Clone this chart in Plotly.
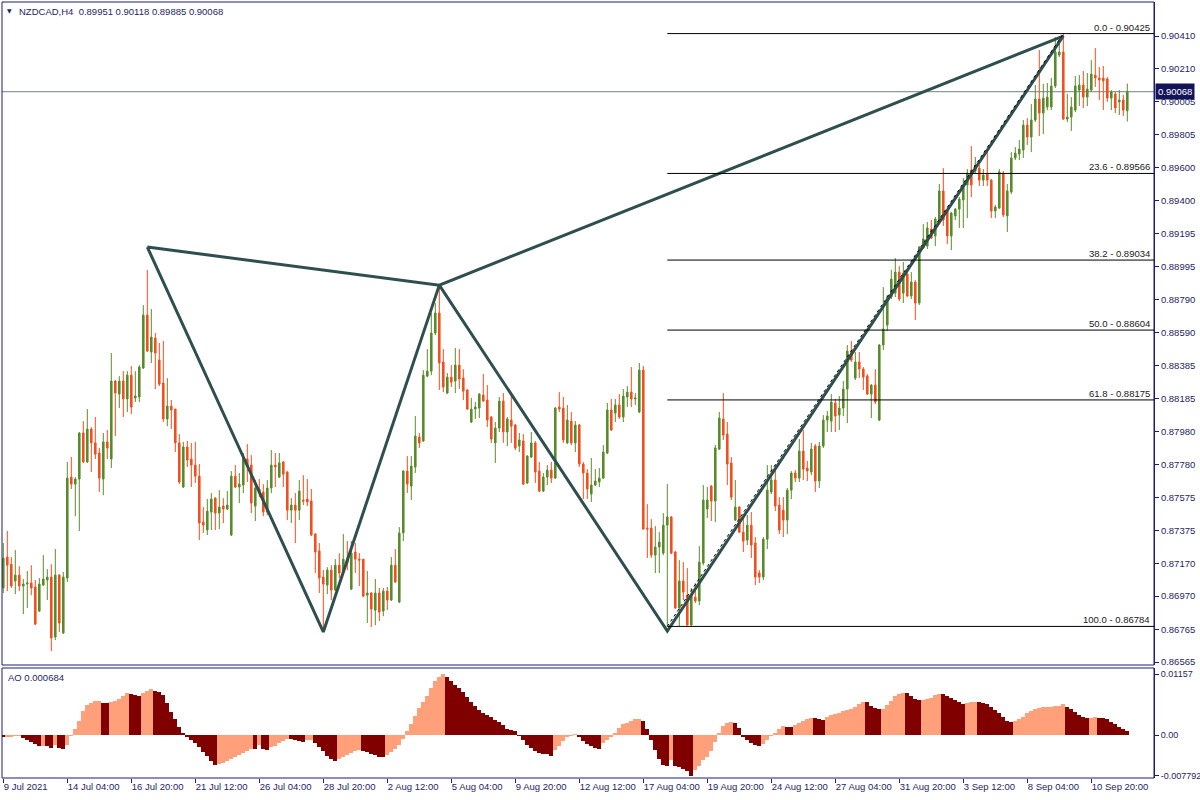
import plotly.graph_objects as go

# ---------------- data (prices in points, 1e-5) ----------------
opens_pts = [
87020,87210,87166,87063,87099,87032,87044,87051,87026,86878,
87038,87069,87087,86719,87099,86744,87081,87701,87658,87689,
87972,87794,87996,87911,87849,87689,87917,87812,88291,88211,
88291,88181,88327,88187,88193,88371,88696,88469,88555,88420,
88279,88058,88137,88119,87911,87640,87886,87812,87775,87707,
87425,87376,87486,87572,87480,87523,87505,87345,87707,87640,
87652,87812,87775,87523,87628,87609,87486,87634,87775,87701,
87794,87732,87498,87529,87498,87560,87566,87554,87351,87247,
87087,87038,87130,87007,87160,87118,87197,87013,87241,87197,
87197,86976,86989,86884,86989,86878,87001,86946,87160,86934,
87358,87738,87646,87763,87947,87923,88321,88352,88586,88709,
88408,88217,88315,88291,88389,88309,88236,88039,88119,88125,
88205,88174,88070,87911,88002,88168,87978,88051,88021,87892,
87923,87665,87824,87911,87738,87615,87701,87744,87695,88131,
88125,87911,88045,87911,88021,87781,87726,87597,87652,87671,
87695,87849,88113,88094,88144,88070,88193,88223,88181,88101,
88358,87388,87388,87222,87271,87234,87406,87456,87241,86897,
87063,86976,86792,86964,86940,87173,87505,87646,87554,87873,
88058,87965,87787,87437,87517,87363,87314,87406,87296,87112,
87087,87320,87609,87683,87529,87498,87437,87621,87726,87695,
87861,87757,87732,87892,87677,87892,88051,88045,88156,88082,
88125,88242,88475,88309,88408,88365,88321,88211,88266,88051,
88512,88635,88807,88831,88960,88831,88948,88813,88899,88770,
89108,89120,89225,89182,89280,89458,89335,89182,89305,89347,
89403,89495,89587,89581,89599,89525,89562,89525,89335,89354,
89568,89305,89452,89661,89685,89710,89863,89790,89894,90023,
89937,89974,89974,90103,90293,90312,89900,89912,89955,90078,
90109,90035,90078,90170,90152,90152,90146,90029,90054,90005,
90017,89951]

highs_pts = [
87296,87370,87210,87253,87154,87075,87124,87160,87069,87081,
87222,87136,87166,87259,87105,87118,87794,87824,87701,87978,
88045,88119,88008,88070,87880,87972,87990,88463,88297,88321,
88352,88352,88383,88352,88389,88757,88973,88733,88586,88525,
88537,88309,88174,88119,87965,87917,87923,87911,87917,87781,
87517,87566,87603,87578,87621,87572,87615,87738,87775,87726,
87849,87904,87836,87683,87689,87658,87683,87867,87849,87849,
87800,87738,87572,87603,87683,87713,87689,87628,87358,87296,
87130,87148,87160,87197,87234,87351,87308,87308,87296,87234,
87197,87124,86995,87075,87020,87020,87026,87210,87259,87394,
87744,87830,87830,88076,87972,88358,88487,88709,88770,88887,
88487,88340,88389,88494,88487,88364,88242,88187,88162,88217,
88334,88266,88076,88039,88193,88217,88070,88211,88027,87972,
87965,87836,87978,87923,87794,87726,87775,87794,88131,88223,
88193,88144,88101,88045,88027,87794,87750,87818,87750,87757,
87898,88156,88181,88181,88211,88242,88260,88377,88217,88402,
88383,87535,87443,87400,87363,87480,87658,87462,87247,87191,
87179,87142,87020,87050,87277,87652,87640,87652,87898,88101,
88217,88039,87824,87683,87523,87456,87468,87486,87333,87130,
87333,87775,87775,87775,87578,87578,87634,87738,87744,87935,
87990,87800,87911,87904,87917,88082,88107,88211,88181,88199,
88291,88512,88537,88469,88469,88377,88334,88272,88364,88518,
88868,88819,88973,89046,88997,89022,88960,88960,88911,89120,
89255,89268,89280,89298,89501,89599,89347,89329,89353,89421,
89538,89593,89734,89667,89618,89593,89697,89532,89372,89593,
89581,89501,89697,89728,89771,89894,89906,89992,90109,90324,
90115,90121,90152,90404,90410,90425,90054,90035,90164,90170,
90195,90183,90262,90336,90219,90226,90158,90078,90066,90078,
90048,90118]

lows_pts = [
86989,87001,87020,86982,87001,86859,86897,86976,86792,86872,
87032,86946,86633,86700,86750,86737,87057,87628,87461,87370,
87788,87788,87732,87812,87609,87590,87812,87757,87953,88125,
88070,88101,88088,88162,88162,88365,88469,88402,88242,88260,
88039,88014,87996,87855,87658,87634,87763,87640,87665,87314,
87358,87345,87376,87376,87382,87419,87498,87339,87634,87542,
87603,87671,87480,87431,87578,87461,87467,87603,87640,87695,
87640,87437,87419,87296,87437,87529,87523,87339,87112,86989,
86750,86982,86946,87001,87081,87112,87130,87007,87112,87032,
86964,86805,86780,86792,86817,86847,86884,86940,87051,86927,
87308,87603,87560,87726,87880,87917,88315,88327,88574,88236,
88223,88211,88254,88217,88242,88174,88113,88033,88058,88064,
88162,88008,87911,87788,87978,87911,87892,87911,87867,87855,
87652,87658,87818,87665,87609,87609,87652,87665,87689,88101,
87911,87904,87898,87855,87763,87566,87566,87548,87646,87640,
87689,87842,87984,88039,88058,88039,88131,88131,88144,88094,
87376,87204,87204,87112,87112,87222,86784,87228,86891,86786,
86946,86790,86789,86927,86915,87160,87450,87431,87425,87867,
87929,87652,87560,87431,87358,87241,87284,87204,87038,87050,
87069,87259,87597,87492,87351,87333,87351,87566,87671,87671,
87683,87677,87713,87609,87634,87880,87978,87978,87978,87990,
88076,88033,88408,88297,88309,88236,88205,88064,88150,88045,
88481,88598,88795,88807,88782,88770,88807,88795,88666,88758,
89102,89102,89163,89120,89268,89243,89132,89095,89280,89231,
89231,89292,89421,89568,89489,89489,89489,89292,89292,89347,
89298,89206,89440,89648,89648,89661,89741,89697,89882,89796,
89808,89955,89955,90091,90281,89894,89882,89827,89943,89980,
89968,89980,90066,90097,90017,89955,90005,89955,89937,89925,
89919,89885]

closes_pts = [
87204,87160,87032,87099,87032,87044,87051,87020,86798,87044,
87075,87087,86713,87099,86805,87087,87695,87658,87689,87972,
87794,87996,87911,87842,87695,87917,87880,88291,88218,88291,
88181,88327,88131,88199,88377,88696,88475,88561,88463,88272,
88058,88137,88113,87911,87671,87886,87806,87775,87707,87419,
87406,87492,87566,87480,87517,87505,87529,87707,87640,87658,
87818,87769,87542,87634,87603,87486,87634,87775,87763,87788,
87719,87498,87529,87498,87615,87554,87548,87345,87241,87081,
87044,87130,87007,87160,87112,87197,87173,87234,87197,87191,
86970,86989,86891,86989,86872,87001,86946,87160,87057,87358,
87738,87658,87769,87953,87911,88327,88352,88586,88709,88402,
88254,88315,88284,88389,88303,88229,88119,88119,88131,88211,
88168,88051,87935,88002,88168,87978,88058,88014,87880,87929,
87658,87830,87911,87732,87615,87701,87744,87695,88125,88119,
87929,88051,87911,88021,87781,87726,87628,87652,87677,87695,
87855,88113,87990,88144,88070,88199,88223,88181,88187,88358,
87382,87382,87222,87271,87302,87406,87456,87234,86897,87063,
86995,86792,86976,86940,87179,87560,87560,87554,87880,88064,
87959,87781,87578,87517,87363,87308,87406,87284,87087,87087,
87320,87621,87683,87523,87376,87437,87621,87726,87695,87861,
87750,87738,87873,87677,87892,88051,88076,88162,88076,88125,
88242,88475,88420,88408,88365,88315,88211,88266,88162,88512,
88610,88807,88917,88960,88795,88954,88813,88899,88770,89114,
89163,89231,89169,89286,89458,89280,89182,89323,89347,89409,
89495,89568,89495,89618,89525,89556,89525,89335,89360,89575,
89311,89458,89661,89691,89716,89863,89790,89894,90023,89937,
90029,90035,90103,90312,90312,89900,89912,89974,90103,90109,
90035,90084,90176,90152,90140,90134,90029,90066,89968,90017,
89955,90068]

# Awesome Oscillator values (1e-5)
ao_pts = [
-25,-24,-21,-19,-18,-57,-95,-133,-171,-216,
-203,-216,-241,-191,-241,-273,-191,-6,108,267,
457,572,603,648,654,616,603,635,654,679,
743,800,781,768,743,806,845,870,845,813,
756,603,445,305,159,44,-44,-95,-159,-235,
-318,-400,-489,-572,-552,-527,-495,-457,-419,-387,
-349,-298,-260,-273,-191,-260,-279,-235,-210,-159,
-114,-70,-83,-102,-121,-127,-95,-89,-159,-222,
-298,-400,-464,-489,-457,-425,-387,-349,-311,-292,
-305,-330,-356,-387,-413,-419,-381,-324,-260,-191,
-70,76,210,362,508,635,743,889,1029,1111,
1157,1111,1029,953,889,819,730,635,552,476,
425,381,337,286,241,191,114,95,83,-19,
-95,-191,-254,-305,-337,-362,-368,-394,-286,-203,
-108,-44,-19,19,-32,-108,-178,-210,-241,-267,
-159,-95,-32,32,127,203,235,267,298,305,
267,114,-95,-286,-464,-572,-584,-476,-591,-616,
-648,-679,-779.2,-667,-591,-476,-413,-298,-127,44,
171,235,254,222,127,-32,-95,-146,-191,-210,
-171,-95,-19,44,108,171,159,146,184,235,
267,298,324,318,305,292,349,375,400,425,
451,470,502,540,584,635,622,559,508,489,
502,572,654,743,787,800,794,743,686,667,
673,686,711,756,781,775,743,699,667,622,
597,610,622,629,622,603,584,540,476,413,
337,267,254,267,298,349,413,457,489,508,
527,533,540,552,559,591,540,489,432,375,
337,318,330,343,330,318,305,254,203,159,
114,68.4]

time_tick_bars = [0, 16, 32, 48, 64, 80, 96, 112, 128, 144, 160, 176, 192, 208, 224, 240, 256, 272]
time_tick_labels = ["9 Jul 2021", "14 Jul 04:00", "16 Jul 20:00", "21 Jul 12:00", "26 Jul 04:00",
                    "28 Jul 20:00", "2 Aug 12:00", "5 Aug 04:00", "9 Aug 20:00", "12 Aug 12:00",
                    "17 Aug 04:00", "19 Aug 20:00", "24 Aug 12:00", "27 Aug 04:00", "31 Aug 20:00",
                    "3 Sep 12:00", "8 Sep 04:00", "10 Sep 20:00"]
price_ticks = [0.90410, 0.90210, 0.90005, 0.89805, 0.89600, 0.89400, 0.89195, 0.88995, 0.88790,
               0.88590, 0.88385, 0.88185, 0.87980, 0.87780, 0.87575, 0.87375, 0.87170, 0.86970,
               0.86765, 0.86565]
ao_ticks = [0.01157, 0.0, -0.007792]
ao_tick_labels = ["0.01157", "0.00", "-0.007792"]

fib_levels = [0.0, 23.6, 38.2, 50.0, 61.8, 100.0]
fib_prices = [0.90425, 0.89566, 0.89034, 0.88604, 0.88175, 0.86784]
fib_start_bar = 166

pattern_bars = [36, 80, 109, 166, 265, 109, 36]
pattern_prices = [0.89114, 0.86750, 0.88880, 0.86756, 0.90410, 0.88880, 0.89114]
trend_bars = [166, 265]
trend_prices = [0.86784, 0.90425]

symbol = "NZDCAD,H4"
last_ohlc = [0.89951, 0.90118, 0.89885, 0.90068]
last_price = 0.90068
ao_last = 0.000684

# ---------------- build ----------------
opens = [v / 1e5 for v in opens_pts]
highs = [v / 1e5 for v in highs_pts]
lows = [v / 1e5 for v in lows_pts]
closes = [v / 1e5 for v in closes_pts]
ao = [v / 1e5 for v in ao_pts]
bars = list(range(len(closes)))

NAVY = "#1c1c78"
TXT = "#1e1e64"
GREEN = "#5a8c2a"
RED = "#f24f1e"
SALMON = "#ffa07a"
MAROON = "#800000"
FONT = "Liberation Sans"
FS = 9

fig = go.Figure()

fig.add_trace(go.Candlestick(
    x=bars, open=opens, high=highs, low=lows, close=closes,
    increasing=dict(line=dict(color=GREEN, width=1), fillcolor=GREEN),
    decreasing=dict(line=dict(color=RED, width=1), fillcolor=RED),
    whiskerwidth=0, hoverinfo="skip", xaxis="x", yaxis="y"))

fig.add_trace(go.Scatter(x=pattern_bars, y=pattern_prices, mode="lines",
                         line=dict(color="#2f4f4f", width=3), hoverinfo="skip",
                         xaxis="x", yaxis="y"))
fig.add_trace(go.Scatter(x=trend_bars, y=trend_prices, mode="lines",
                         line=dict(color="#000000", width=1, dash="dot"), hoverinfo="skip",
                         xaxis="x", yaxis="y"))

ao_colors = []
for i, v in enumerate(ao):
    if i > 0 and v > ao[i - 1]:
        ao_colors.append(SALMON)
    else:
        ao_colors.append(MAROON)
fig.add_trace(go.Bar(x=bars, y=ao, marker=dict(color=ao_colors, line=dict(width=0)),
                     width=1.0, hoverinfo="skip", xaxis="x2", yaxis="y2"))

# plot area spans x=2..1154, y=2..778 (pixels)
main_bottom = (778 - 665) / 776
ao_top = (778 - 668) / 776
xr = [-0.325, 287.675]

shapes = [
    dict(type="rect", xref="paper", yref="paper", x0=0, x1=1, y0=main_bottom, y1=1,
         line=dict(color=NAVY, width=1), layer="above"),
    dict(type="rect", xref="paper", yref="paper", x0=0, x1=1, y0=0, y1=ao_top,
         line=dict(color=NAVY, width=1), layer="above"),
    dict(type="line", xref="paper", yref="y", x0=0, x1=1, y0=last_price, y1=last_price,
         line=dict(color="#708090", width=1), layer="below"),
]
annotations = []
for lvl, p in zip(fib_levels, fib_prices):
    shapes.append(dict(type="line", xref="x", yref="y", x0=fib_start_bar, x1=xr[1],
                       y0=p, y1=p, line=dict(color="#000000", width=1)))
    annotations.append(dict(xref="paper", yref="y", x=1, y=p, xshift=-2, yshift=-1,
                            xanchor="right", yanchor="bottom", showarrow=False,
                            text=f"{lvl:.1f} - {p:.5f}",
                            font=dict(family=FONT, size=FS + 0.5, color="#202020")))

annotations.append(dict(xref="paper", yref="y", x=1, y=last_price, xshift=1,
                        xanchor="left", yanchor="middle", showarrow=False,
                        text=f"{last_price:.5f}", bgcolor="#14145a", borderpad=2,
                        font=dict(family=FONT, size=FS + 0.5, color="#ffffff")))
annotations.append(dict(xref="paper", yref="paper", x=(5 - 2) / 1152, y=1, yshift=-8,
                        xanchor="left", yanchor="middle", showarrow=False, text="▼",
                        font=dict(family="DejaVu Sans", size=6, color=NAVY)))
annotations.append(dict(xref="paper", yref="paper", x=(17 - 2) / 1152, y=1, yshift=-9,
                        xanchor="left", yanchor="middle", showarrow=False,
                        text=symbol + "  " + " ".join(f"{v:.5f}" for v in last_ohlc),
                        font=dict(family=FONT, size=FS + 0.5, color=TXT)))
annotations.append(dict(xref="paper", yref="paper", x=(6 - 2) / 1152, y=ao_top, yshift=-9,
                        xanchor="left", yanchor="middle", showarrow=False,
                        text=f"AO {ao_last:.6f}",
                        font=dict(family=FONT, size=FS + 0.5, color=TXT)))

fig.update_layout(
    width=1200, height=800,
    margin=dict(l=2, r=46, t=2, b=22, autoexpand=False),
    paper_bgcolor="white", plot_bgcolor="white",
    showlegend=False, boxgap=0.45, bargap=0,
    font=dict(family=FONT, size=FS, color=TXT),
    xaxis=dict(domain=[0, 1], range=xr, anchor="y", showticklabels=False, ticks="",
               showgrid=False, zeroline=False, showline=False, automargin=False,
               rangeslider=dict(visible=False)),
    yaxis=dict(domain=[main_bottom, 1], range=[0.86547, 0.90619], side="right", anchor="x",
               tickvals=price_ticks, ticktext=[f"{p:.5f}" for p in price_ticks],
               ticks="outside", ticklen=4, tickcolor=NAVY, showline=True, linecolor=NAVY,
               linewidth=1, showgrid=False, zeroline=False, automargin=False,
               tickfont=dict(family=FONT, size=FS + 0.5, color=TXT)),
    xaxis2=dict(domain=[0, 1], range=xr, anchor="y2", tickvals=time_tick_bars,
                ticktext=time_tick_labels, ticks="outside", ticklen=4, tickcolor=NAVY,
                tickangle=0, ticklabelposition="outside right", showgrid=False,
                zeroline=False, showline=False, automargin=False,
                tickfont=dict(family=FONT, size=FS + 0.5, color=TXT)),
    yaxis2=dict(domain=[0, ao_top], range=[-0.00819, 0.01276], side="right", anchor="x2",
                tickvals=ao_ticks, ticktext=ao_tick_labels, ticks="outside", ticklen=4,
                tickcolor=NAVY, showline=True, linecolor=NAVY, linewidth=1,
                showgrid=False, zeroline=False, automargin=False,
                tickfont=dict(family=FONT, size=FS, color=TXT)),
    shapes=shapes, annotations=annotations,
)

fig.write_html(
    "out.html",
    config={"displayModeBar": False},
    post_script="document.body.style.margin='0';document.documentElement.style.overflow='hidden';",
)
